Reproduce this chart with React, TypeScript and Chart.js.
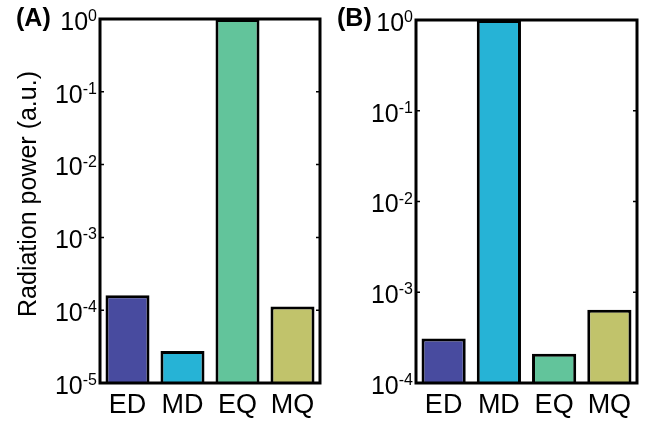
import React, { useEffect, useRef } from "react";
import { Chart, registerables } from "chart.js";

Chart.register(...registerables);

const categories = ["ED", "MD", "EQ", "MQ"];
const powerA = [1.6e-4, 2.75e-5, 1, 1.12e-4];
const powerB = [3.1e-4, 1, 2.1e-4, 6.4e-4];
const tickExpA = [0, -1, -2, -3, -4, -5];
const tickExpB = [0, -1, -2, -3, -4];
const barColors = ["#484B9F", "#26B3D6", "#62C49B", "#C1C36B"];
const yTitle = "Radiation power (a.u.)";
const FONT = "'Liberation Sans', Arial, Helvetica, sans-serif";

const framePlugin = {
  id: "frame",
  afterDatasetsDraw(chart: any, _args: any, opts: any) {
    const { ctx } = chart;
    const { left, right, top, bottom } = chart.chartArea;
    const ys = chart.scales.y;
    const xs = chart.scales.x;
    ctx.save();
    ctx.strokeStyle = "#000";
    ctx.fillStyle = "#000";
    // inner ticks
    ctx.lineWidth = 1.5;
    for (const e of opts.exps as number[]) {
      const py = ys.getPixelForValue(Math.pow(10, e));
      ctx.beginPath();
      ctx.moveTo(left, py);
      ctx.lineTo(left + 4, py);
      ctx.moveTo(right, py);
      ctx.lineTo(right - 4, py);
      ctx.stroke();
    }
    // frame
    ctx.lineWidth = 3;
    ctx.strokeRect(left, top, right - left, bottom - top);
    // y tick labels
    for (const e of opts.exps as number[]) {
      const py = ys.getPixelForValue(Math.pow(10, e));
      const expStr = String(e);
      ctx.font = `16px ${FONT}`;
      const ew = ctx.measureText(expStr).width;
      const ex = left - 3 - ew;
      ctx.textAlign = "left";
      ctx.textBaseline = "alphabetic";
      ctx.fillText(expStr, ex, py + 2);
      ctx.font = `25px ${FONT}`;
      ctx.textAlign = "right";
      ctx.textBaseline = "middle";
      ctx.fillText("10", ex, py + 4);
    }
    // x labels
    ctx.font = `27px ${FONT}`;
    ctx.textAlign = "center";
    ctx.textBaseline = "middle";
    chart.data.labels.forEach((lab: string, i: number) => {
      ctx.fillText(lab, xs.getPixelForValue(i), bottom + 23);
    });
    // panel label
    ctx.font = `bold 25px ${FONT}`;
    ctx.textAlign = "left";
    ctx.textBaseline = "middle";
    ctx.fillText(opts.panel, opts.panelX, 19);
    // y title
    if (opts.title) {
      ctx.translate(29, 194);
      ctx.rotate(-Math.PI / 2);
      ctx.font = `25px ${FONT}`;
      ctx.textAlign = "center";
      ctx.textBaseline = "middle";
      ctx.fillText(opts.title, 0, 0);
    }
    ctx.restore();
  },
};

function Panel(props: {
  values: number[];
  exps: number[];
  panel: string;
  panelX: number;
  title?: string;
  padding: { left: number; right: number; top: number; bottom: number };
  x: number;
}) {
  const ref = useRef<HTMLCanvasElement>(null);
  useEffect(() => {
    if (!ref.current) return;
    const minExp = Math.min(...props.exps);
    const maxExp = Math.max(...props.exps);
    const chart = new Chart(ref.current, {
      type: "bar",
      data: {
        labels: categories,
        datasets: [
          {
            data: props.values,
            backgroundColor: barColors,
            borderColor: "#000",
            borderWidth: 3,
            barPercentage: 0.8,
            categoryPercentage: 1,
          },
        ],
      },
      options: {
        responsive: false,
        animation: false,
        devicePixelRatio: 1,
        layout: { padding: props.padding },
        plugins: {
          legend: { display: false },
          tooltip: { enabled: false },
          frame: { exps: props.exps, panel: props.panel, panelX: props.panelX, title: props.title },
        } as any,
        scales: {
          x: { type: "category", display: false, offset: true },
          y: {
            type: "logarithmic",
            display: false,
            min: Math.pow(10, minExp),
            max: Math.pow(10, maxExp),
          },
        },
      },
      plugins: [framePlugin],
    });
    return () => chart.destroy();
  }, []);
  return (
    <canvas
      ref={ref}
      width={327}
      height={423}
      style={{ position: "absolute", left: props.x, top: 0, width: 327, height: 423 }}
    />
  );
}

export default function App() {
  return (
    <div style={{ position: "fixed", left: 0, top: 0, width: 654, height: 423, background: "#fff" }}>
      <Panel
        values={powerA}
        exps={tickExpA}
        panel="(A)"
        panelX={16}
        title={yTitle}
        padding={{ left: 100, right: 7, top: 19, bottom: 40 }}
        x={0}
      />
      <Panel
        values={powerB}
        exps={tickExpB}
        panel="(B)"
        panelX={10}
        padding={{ left: 89, right: 17, top: 20, bottom: 40 }}
        x={327}
      />
    </div>
  );
}
